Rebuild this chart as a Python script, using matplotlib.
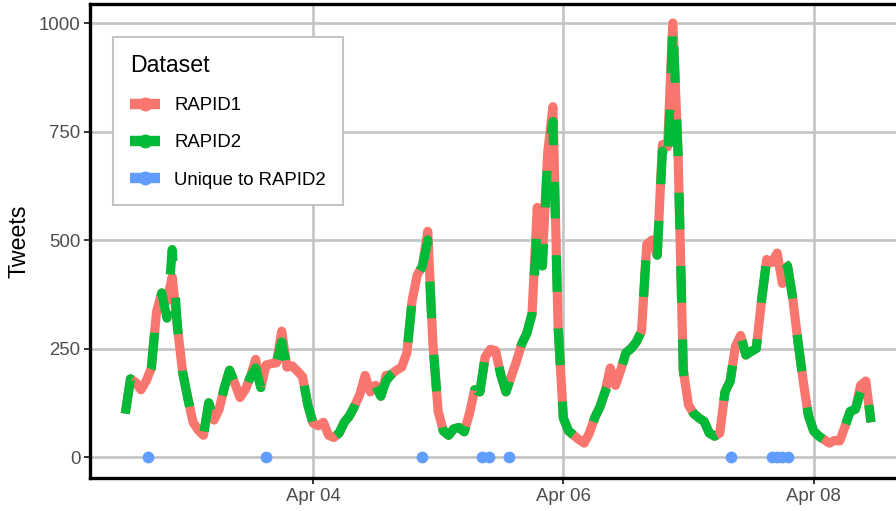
import matplotlib
matplotlib.use("Agg")
import matplotlib.pyplot as plt
import matplotlib.dates as mdates
from matplotlib.lines import Line2D
import pandas as pd

# ---- data ----
start_time = "2020-04-02 12:00"
rapid1 = [100, 180, 172, 155, 175, 205, 335, 378, 360, 415, 300, 195, 135, 80, 62, 50,
          125, 85, 110, 160, 200, 170, 137, 155, 185, 225, 160, 212, 215, 217, 290, 207,
          210, 198, 185, 120, 78, 72, 80, 50, 45, 55, 80, 95, 118, 145, 188, 150,
          165, 140, 188, 190, 200, 207, 240, 360, 420, 440, 520, 260, 105, 60, 50, 65,
          68, 58, 100, 155, 150, 230, 248, 245, 190, 150, 185, 220, 260, 285, 330, 575,
          460, 700, 807, 300, 90, 60, 50, 40, 32, 55, 90, 115, 150, 205, 165, 200,
          240, 250, 265, 290, 490, 500, 465, 720, 715, 1000, 700, 200, 120, 100, 90, 82,
          55, 48, 55, 150, 175, 255, 280, 235, 243, 250, 360, 455, 448, 470, 400, 440,
          365, 265, 175, 95, 60, 48, 40, 32, 38, 37, 70, 105, 110, 165, 175, 80]
rapid2 = [100, 180, 172, 155, 175, 205, 335, 378, 320, 478, 300, 195, 135, 80, 62, 50,
          125, 85, 110, 160, 200, 170, 137, 155, 185, 205, 160, 212, 215, 217, 265, 207,
          210, 198, 185, 120, 78, 72, 80, 50, 45, 55, 80, 95, 118, 145, 160, 150,
          165, 140, 175, 190, 200, 207, 240, 360, 420, 440, 500, 260, 105, 60, 50, 65,
          68, 58, 100, 155, 150, 230, 248, 245, 190, 150, 185, 220, 260, 285, 330, 530,
          440, 690, 773, 300, 90, 60, 50, 40, 32, 55, 90, 115, 150, 175, 165, 200,
          240, 250, 265, 290, 490, 500, 465, 705, 665, 1000, 700, 200, 120, 100, 90, 82,
          55, 48, 55, 150, 175, 255, 280, 235, 243, 250, 360, 455, 448, 470, 455, 440,
          365, 265, 175, 95, 60, 48, 40, 32, 38, 37, 70, 105, 110, 150, 175, 80]
unique_times = ["2020-04-02 16:18", "2020-04-03 15:00", "2020-04-04 20:50",
                "2020-04-05 08:24", "2020-04-05 09:42", "2020-04-05 13:38",
                "2020-04-07 08:09", "2020-04-07 16:00", "2020-04-07 17:00",
                "2020-04-07 18:00", "2020-04-07 19:00"]
unique_values = [0] * len(unique_times)
x_ticks = ["2020-04-04", "2020-04-06", "2020-04-08"]

times = pd.date_range(start_time, periods=len(rapid1), freq="h")
utimes = pd.to_datetime(unique_times)

c1, c2, c3 = "#F8766D", "#00BA38", "#619CFF"

W, H = 896, 511
fig = plt.figure(figsize=(W / 100, H / 100), dpi=100)
ax_l, ax_t, ax_b, ax_r = 90, 4, 478, 896
ax = fig.add_axes([ax_l / W, 1 - ax_b / H, (ax_r - ax_l) / W, (ax_b - ax_t) / H])

lw = 6.6
ax.plot(times, rapid1, color=c1, lw=lw, solid_capstyle="butt", solid_joinstyle="round", zorder=3)
ax.plot(times, rapid2, color=c2, lw=lw, linestyle=(0, (4, 4)),
        dash_capstyle="butt", dash_joinstyle="round", zorder=4)
ax.scatter(utimes, unique_values, s=72, color=c3, zorder=5, linewidths=0)

# axis scales (ggplot-like expansion, panel extends beyond right edge)
t0 = pd.Timestamp("2020-04-04 00:00")
px_per_hour = 5.215
left_h = (ax_l - 313) / px_per_hour
right_h = (ax_r - 313) / px_per_hour
ax.set_xlim(mdates.date2num(t0 + pd.Timedelta(hours=left_h)),
            mdates.date2num(t0 + pd.Timedelta(hours=right_h)))
ppu = 0.434
ax.set_ylim((457 - ax_b) / ppu, (457 - ax_t) / ppu)

ax.set_xticks(mdates.date2num(pd.to_datetime(x_ticks)))
ax.xaxis.set_major_formatter(mdates.DateFormatter("%b %d"))
ax.set_yticks([0, 250, 500, 750, 1000])

ax.grid(True, color="#C4C4C4", lw=1.9, zorder=0)
ax.set_axisbelow(True)
for s in ["top", "left", "bottom"]:
    ax.spines[s].set_color("black")
    ax.spines[s].set_linewidth(2.4)
ax.spines["right"].set_visible(False)

fontfam = ["Liberation Sans", "DejaVu Sans"]
ax.tick_params(axis="both", length=4, width=1.4, color="#333333", labelcolor="#4D4D4D",
               labelsize=13.4, pad=3)
for lab in ax.get_xticklabels() + ax.get_yticklabels():
    lab.set_fontfamily(fontfam)
ax.set_ylabel("Tweets", fontsize=16.7, family=fontfam, color="black", labelpad=6)

handles = [
    Line2D([], [], color=c1, lw=7.5, marker="o", markersize=9, solid_capstyle="butt"),
    Line2D([], [], color=c2, lw=7.5, marker="o", markersize=9, solid_capstyle="butt"),
    Line2D([], [], color=c3, lw=7.5, marker="o", markersize=9, solid_capstyle="butt"),
]
leg = ax.legend(handles, ["RAPID1", "RAPID2", "Unique to RAPID2"], title="Dataset",
                loc="upper left", bbox_to_anchor=(113 / W, 1 - 37 / H),
                bbox_transform=fig.transFigure, borderaxespad=0,
                prop={"family": fontfam, "size": 13.4},
                title_fontproperties={"family": fontfam, "size": 16.7},
                alignment="left", fancybox=False, framealpha=1, edgecolor="#C4C4C4",
                handlelength=1.6, handletextpad=0.8, labelspacing=1.09, borderpad=0.9)
leg.get_frame().set_linewidth(1.5)
leg.set_zorder(10)

fig.savefig("out.png", dpi=100, facecolor="white")
